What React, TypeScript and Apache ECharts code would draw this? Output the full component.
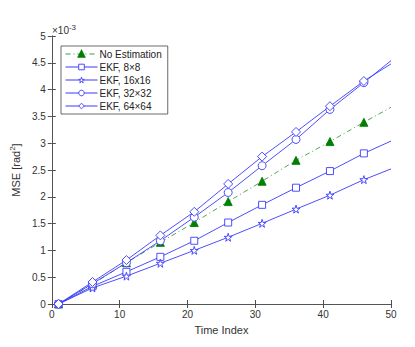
import React, { useEffect, useRef } from "react";
import * as echarts from "echarts";

const timeIndex = [1, 6, 11, 16, 21, 26, 31, 36, 41, 46, 50];
const noEstimation = [0, 0.37, 0.77, 1.15, 1.52, 1.91, 2.29, 2.68, 3.03, 3.39, 3.67];
const ekf8 = [0, 0.33, 0.6, 0.88, 1.18, 1.52, 1.85, 2.17, 2.48, 2.81, 3.04];
const ekf16 = [0, 0.3, 0.52, 0.76, 1.0, 1.245, 1.505, 1.77, 2.03, 2.32, 2.52];
const ekf32 = [0, 0.38, 0.77, 1.18, 1.62, 2.08, 2.58, 3.07, 3.63, 4.13, 4.54];
const ekf64 = [0, 0.41, 0.82, 1.28, 1.72, 2.24, 2.75, 3.21, 3.69, 4.16, 4.48];
const legendNames = ["No Estimation", "EKF, 8×8", "EKF, 16x16", "EKF, 32×32", "EKF, 64×64"];
const xTicks = { min: 0, max: 50, interval: 10 };
const yTicks = { min: 0, max: 5, interval: 0.5 };

const FONT = "'Liberation Sans', Arial, sans-serif";
const BLUE = "#3a3aff";
const GREEN = "#007f00";
const GREEN_LINE = "#3c9c3c";

function toData(ys: number[]) {
  return ys.map((y, i) =>
    i === ys.length - 1
      ? { value: [timeIndex[i], y], symbol: "none" }
      : { value: [timeIndex[i], y] }
  );
}

export default function App() {
  const ref = useRef<HTMLDivElement>(null);
  useEffect(() => {
    if (!ref.current) return;
    const chart = echarts.init(ref.current, null, { renderer: "svg" });
    const axisColor = "#4d4d4d";
    const labelStyle = { color: "#333", fontSize: 10, fontFamily: FONT };
    const mk = (name: string, ys: number[], symbol: string, color: string, lineColor: string, size: number, filled: boolean, dash?: any) => ({
      name,
      type: "line",
      data: toData(ys),
      symbol,
      symbolSize: size,
      showAllSymbol: true,
      lineStyle: { color: lineColor, width: 0.9, type: dash || "solid" },
      itemStyle: { color: filled ? color : "#ffffff", borderColor: color, borderWidth: 0.9 },
      emphasis: { disabled: true },
      z: 3,
    });
    const starPath =
      "path://M50,0 L61,35 L98,35 L68,57 L79,91 L50,70 L21,91 L32,57 L2,35 L39,35 Z";
    const openIcon = { color: "#ffffff", borderColor: BLUE, borderWidth: 0.9 };
    chart.setOption({
      animation: false,
      textStyle: { fontFamily: FONT },
      grid: { left: 51, right: 24, top: 36, bottom: 43 },
      legend: {
        orient: "vertical",
        left: 61,
        top: 46,
        backgroundColor: "#ffffff",
        borderColor: "#444",
        borderWidth: 0.8,
        borderRadius: 0,
        padding: [3, 6, 3, 4],
        itemGap: 3,
        itemWidth: 32,
        itemHeight: 7,
        lineStyle: { width: 1 },
        textStyle: { fontSize: 10, color: "#222", fontFamily: FONT, padding: [0, 0, 0, -3] },
        data: [
          { name: legendNames[0] },
          { name: legendNames[1], itemStyle: openIcon },
          { name: legendNames[2], itemStyle: openIcon },
          { name: legendNames[3], itemStyle: openIcon },
          { name: legendNames[4], itemStyle: openIcon },
        ],
      },
      xAxis: [
        {
          type: "value",
          ...xTicks,
          name: "Time Index",
          nameLocation: "middle",
          nameGap: 20,
          nameTextStyle: { fontSize: 11, color: "#333", fontFamily: FONT },
          axisLine: { lineStyle: { color: axisColor, width: 0.8 } },
          axisTick: { inside: true, length: 4, lineStyle: { color: axisColor } },
          axisLabel: { ...labelStyle, margin: 5 },
          splitLine: { show: false },
        },
        {
          type: "value",
          position: "top",
          ...xTicks,
          axisLine: { show: true, lineStyle: { color: axisColor, width: 0.8 } },
          axisTick: { inside: true, length: 4, lineStyle: { color: axisColor } },
          axisLabel: { show: false },
          splitLine: { show: false },
        },
      ],
      yAxis: [
        {
          type: "value",
          ...yTicks,
          name: "MSE [rad{sup|2}]",
          nameLocation: "middle",
          nameGap: 24,
          nameRotate: 90,
          nameTextStyle: {
            fontSize: 11,
            color: "#333",
            fontFamily: FONT,
            rich: { sup: { fontSize: 8, color: "#333", fontFamily: FONT, padding: [0, 0, 7, 0] } },
          },
          axisLine: { show: true, lineStyle: { color: axisColor, width: 0.8 } },
          axisTick: { inside: true, length: 4, lineStyle: { color: axisColor } },
          axisLabel: { ...labelStyle, margin: 6 },
          splitLine: { show: false },
        },
        {
          type: "value",
          position: "right",
          ...yTicks,
          axisLine: { show: true, lineStyle: { color: axisColor, width: 0.8 } },
          axisTick: { inside: true, length: 4, lineStyle: { color: axisColor } },
          axisLabel: { show: false },
          splitLine: { show: false },
        },
      ],
      graphic: [
        {
          type: "text",
          left: 52,
          top: 23,
          style: {
            text: "×10{sup|-3}",
            fontSize: 10,
            fill: "#333",
            fontFamily: FONT,
            rich: { sup: { fontSize: 8, fill: "#333", fontFamily: FONT, padding: [0, 0, 6, 0] } },
          },
        },
      ],
      series: [
        mk(legendNames[0], noEstimation, "triangle", GREEN, GREEN_LINE, 8, true, [5, 3, 1, 3]),
        mk(legendNames[1], ekf8, "rect", BLUE, BLUE, 7, false),
        mk(legendNames[2], ekf16, starPath, BLUE, BLUE, 8, false),
        mk(legendNames[3], ekf32, "circle", BLUE, BLUE, 8, false),
        mk(legendNames[4], ekf64, "diamond", BLUE, BLUE, 9, false),
      ],
    });
    return () => chart.dispose();
  }, []);
  return <div ref={ref} style={{ width: 415, height: 347, position: "absolute", left: 0, top: 0, background: "#fff" }} />;
}
